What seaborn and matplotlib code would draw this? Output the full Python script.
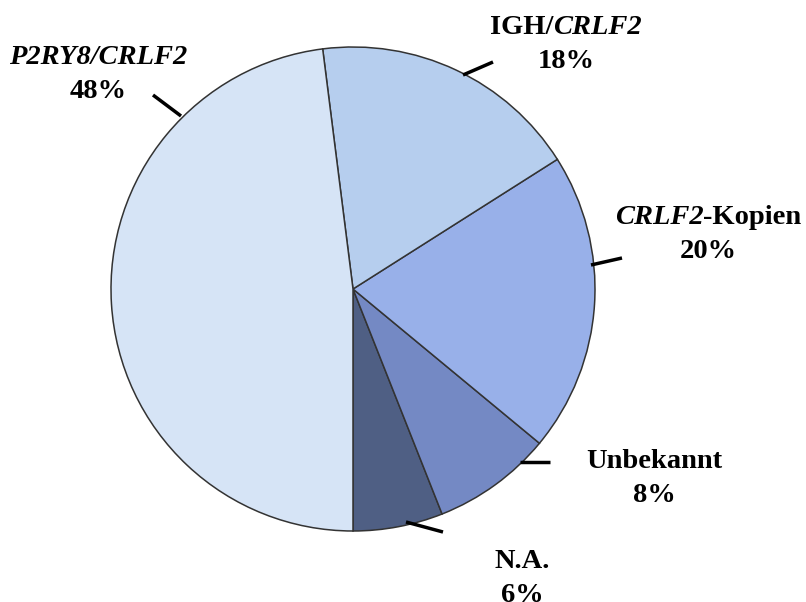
import matplotlib
matplotlib.use("Agg")
import matplotlib.pyplot as plt
import seaborn as sns

sns.set_theme(style="white")
plt.rcParams['font.family'] = ['Liberation Serif', 'DejaVu Serif']

# Data (counter-clockwise from 6 o'clock)
categories = ["N.A.", "Unbekannt", "CRLF2-Kopien", "IGH/CRLF2", "P2RY8/CRLF2"]
# label pieces: (text, italic?)
label_parts = [
    [("N.A.", False)],
    [("Unbekannt", False)],
    [("CRLF2", True), ("-Kopien", False)],
    [("IGH/", False), ("CRLF2", True)],
    [("P2RY8/CRLF2", True)],
]
values = [6, 8, 20, 18, 48]
pct_labels = ["6%", "8%", "20%", "18%", "48%"]
colors = ["#4F5F84", "#7489C4", "#98B0E9", "#B6CEEE", "#D6E4F6"]

W, H = 806, 602
fig = plt.figure(figsize=(W / 100, H / 100), dpi=100)
fig.patch.set_facecolor("white")
ax = fig.add_axes([0, 0, 1, 1])

cx, cy, R = 353, H - 289, 242
ax.pie(values, colors=colors, startangle=270, counterclock=True,
       center=(cx, cy), radius=R, frame=True,
       wedgeprops=dict(edgecolor="#333333", linewidth=1.1))
ax.set_xlim(0, W)
ax.set_ylim(0, H)
ax.set_aspect("equal")
ax.axis("off")

FS = 20.5
label_pos = [(522, 561), (654, 461), (708, 218), (566, 28), (98, 57)]
line_seg = [((406, 522), (443, 532)), ((520, 462), (550, 462)),
            ((591, 265), (622, 258)), ((463, 75), (493, 62)),
            ((181, 116), (153, 95))]

renderer = fig.canvas.get_renderer()

def draw_parts(parts, xc, y):
    texts = []
    widths = []
    for s, it in parts:
        t = ax.text(0, y, s, ha="left", va="center", fontsize=FS, fontweight="bold",
                    fontstyle="italic" if it else "normal", color="black")
        bb = t.get_window_extent(renderer=renderer)
        texts.append(t)
        widths.append(bb.width)
    total = sum(widths)
    x = xc - total / 2
    for t, w in zip(texts, widths):
        t.set_x(x)
        x += w

for parts, pct, (tx, ty), ((x0, y0), (x1, y1)) in zip(label_parts, pct_labels, label_pos, line_seg):
    draw_parts(parts, tx, H - ty)
    ax.text(tx, H - ty - 34, pct, ha="center", va="center", fontsize=FS,
            fontweight="bold", color="black")
    ax.plot([x0, x1], [H - y0, H - y1], color="black", lw=2.5, solid_capstyle="butt")

fig.savefig("out.png", dpi=100, facecolor="white")
